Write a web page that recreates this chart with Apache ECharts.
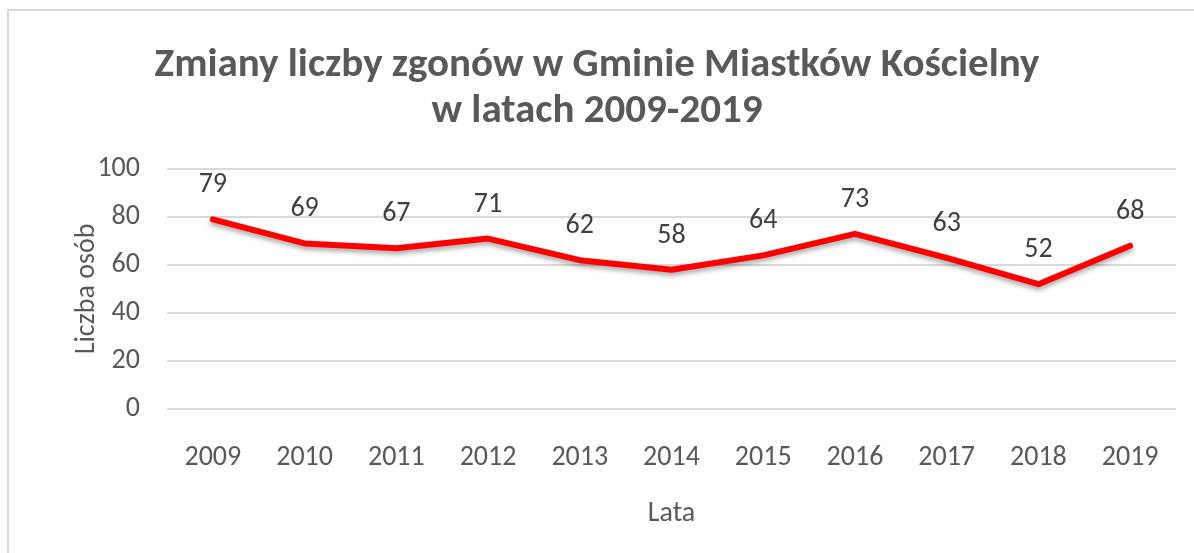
<!DOCTYPE html>
<html>
<head>
<meta charset="utf-8">
<script src="https://cdn.jsdelivr.net/npm/echarts@6/dist/echarts.min.js"></script>
<style>
  html, body { margin: 0; padding: 0; background: #fff; }
  #chart { width: 1194px; height: 553px; }
</style>
</head>
<body>
<div id="chart"></div>
<script>
const years = ['2009', '2010', '2011', '2012', '2013', '2014', '2015', '2016', '2017', '2018', '2019']
const deaths = [79, 69, 67, 71, 62, 58, 64, 73, 63, 52, 68]
const yTicks = [0, 20, 40, 60, 80, 100]

const font = 'Calibri, Carlito, Lato, sans-serif'
const chart = echarts.init(document.getElementById('chart'))

chart.setOption({
  backgroundColor: '#fff',
  animation: false,
  textStyle: { fontFamily: font },
  graphic: [
    {
      type: 'rect',
      shape: { x: 8, y: 10, width: 1200, height: 560 },
      style: { fill: 'none', stroke: '#d9d9d9', lineWidth: 2 },
      z: -1
    },
    {
      // tytuł osi Y
      type: 'text',
      x: 87,
      y: 289,
      rotation: Math.PI / 2,
      style: {
        text: 'Liczba osób',
        font: '28px ' + font,
        fill: '#595959',
        align: 'center',
        verticalAlign: 'middle'
      }
    }
  ],
  title: {
    text: 'Zmiany liczby zgonów w Gminie Miastków Kościelny\nw latach 2009-2019',
    left: 'center',
    top: 38,
    textStyle: {
      fontFamily: font,
      fontSize: 41,
      fontWeight: 'bold',
      color: '#595959',
      lineHeight: 46
    }
  },
  grid: { left: 167, right: 18, top: 169, bottom: 144 },
  xAxis: {
    type: 'category',
    data: years,
    name: 'Lata',
    nameLocation: 'middle',
    nameGap: 91,
    nameMoveOverlap: false,
    nameTextStyle: { fontFamily: font, fontSize: 28, color: '#595959' },
    axisLine: { show: false },
    axisTick: { show: false },
    axisLabel: { fontFamily: font, fontSize: 28, color: '#595959', margin: 35 }
  },
  yAxis: {
    type: 'value',
    min: yTicks[0],
    max: yTicks[yTicks.length - 1],
    interval: 20,
    axisLine: { show: false },
    axisTick: { show: false },
    axisLabel: { fontFamily: font, fontSize: 28, color: '#595959', margin: 27 },
    splitLine: { lineStyle: { color: '#d9d9d9', width: 2 } }
  },
  series: [{
    type: 'line',
    data: deaths,
    symbol: 'circle',
    symbolSize: 2,
    showSymbol: true,
    itemStyle: { color: 'rgba(255,0,0,0)' },
    lineStyle: {
      color: '#ff0000',
      width: 6,
      cap: 'round',
      join: 'round',
      shadowColor: 'rgba(0,0,0,0.35)',
      shadowBlur: 5,
      shadowOffsetY: 3
    },
    label: {
      show: true,
      position: 'top',
      distance: 19,
      fontFamily: font,
      fontSize: 28,
      color: '#404040'
    }
  }]
})
</script>
</body>
</html>
